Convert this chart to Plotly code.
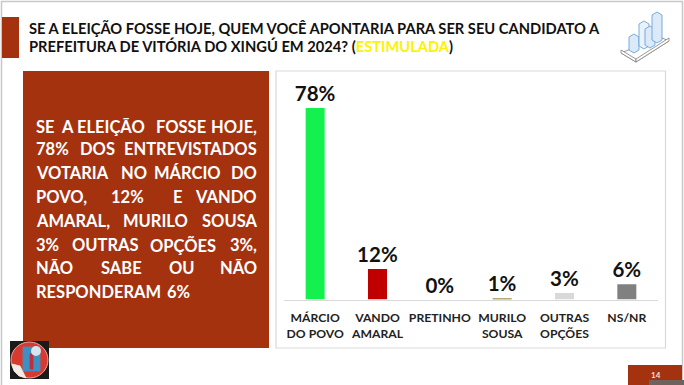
import plotly.graph_objects as go

categories = ["MÁRCIO<br>DO POVO", "VANDO<br>AMARAL", "PRETINHO", "MURILO<br>SOUSA", "OUTRAS<br>OPÇÕES", "NS/NR"]
values = [78, 12.4, 0, 0.6, 2.6, 6.2]
value_labels = ["78%", "12%", "0%", "1%", "3%", "6%"]
bar_colors = ["#14F04E", "#C00000", "#C00000", "#B5A878", "#D9D9D9", "#808080"]

title_line_1 = "SE A ELEIÇÃO FOSSE HOJE, QUEM VOCÊ APONTARIA PARA SER SEU CANDIDATO A"
title_line_2 = 'PREFEITURA DE VITÓRIA DO XINGÚ EM 2024? (<span style="color:#FFF200">ESTIMULADA</span>)'
page_number = "14"

# Justified side text: each line as (centre y, [(left x, word), ...]); the final word of a
# justified line is anchored on the right margin instead.
side_lines = [
    (127, [(35, "SE"), (60, "A"), (76, "ELEIÇÃO"), (155, "FOSSE")], "HOJE,"),
    (149, [(35, "78%"), (79, "DOS")], "ENTREVISTADOS"),
    (173, [(35, "VOTARIA"), (120, "NO"), (153, "MÁRCIO")], "DO"),
    (197, [(35, "POVO,"), (110, "12%"), (172, "E")], "VANDO"),
    (221, [(35, "AMARAL,"), (122, "MURILO")], "SOUSA"),
    (245, [(35, "3%"), (71, "OUTRAS"), (149, "OPÇÕES")], "3%,"),
    (268, [(35, "NÃO"), (100, "SABE"), (168, "OU")], "NÃO"),
    (292, [(35, "RESPONDERAM"), (166, "6%")], None),
]

W, H = 684, 385
BRICK = "#A5320F"
FONT = "Lato"
px = lambda x: x / W
py = lambda y: 1 - y / H


def rect(x0, y0, x1, y1, fill="rgba(0,0,0,0)", line=None, width=1):
    return dict(type="rect", xref="paper", yref="paper", x0=px(x0), x1=px(x1), y0=py(y0), y1=py(y1),
                fillcolor=fill, line=dict(color=line or "rgba(0,0,0,0)", width=width if line else 0), layer="below")


def poly(points, fill="rgba(0,0,0,0)", line="#5B9BD5", width=0.8, layer="above"):
    d = "M" + " L".join(f"{px(x):.5f},{py(y):.5f}" for x, y in points) + " Z"
    return dict(type="path", xref="paper", yref="paper", path=d, fillcolor=fill,
                line=dict(color=line, width=width), layer=layer)


def circle(x0, y0, x1, y1, fill, line=None, width=0):
    return dict(type="circle", xref="paper", yref="paper", x0=px(x0), x1=px(x1), y0=py(y0), y1=py(y1),
                fillcolor=fill, line=dict(color=line or "rgba(0,0,0,0)", width=width), layer="above")


shapes = [
    rect(1.5, 1.5, 682.5, 390, line="#C8C8C8", width=1.5),  # slide frame
    rect(2, 17, 19, 58, fill=BRICK),
    rect(23, 71, 269, 348, fill=BRICK),
    rect(276, 71, 665.5, 348, fill="white", line="#D9D9D9", width=1.2),
    rect(628, 365, 682, 385, fill=BRICK),
    rect(649, 380, 684, 385, fill="#6E625C"),
    # logo
    rect(10, 341, 49, 379, fill="#1A1A1A"),
    circle(11, 342, 48, 378, "#D93A30", "#E8A8A0", 1),
    poly([(23, 347), (40, 347), (40, 371), (23, 371)], fill="#3D8FC4", line="#3D8FC4"),
    poly([(30, 354), (33, 354), (33, 369), (30, 369)], fill="#C0303A", line="#C0303A"),
    circle(31, 346, 41, 356, "#D8E4EC"),
    poly([(12, 364), (20, 366), (26, 378), (19, 376), (14, 371)], fill="#F2EDE4", line="#F2EDE4"),
    # isometric bar icon
    poly([(621, 53), (660, 37), (669, 41), (636, 62)], fill="white", line="#7F7F7F"),
    poly([(621, 53), (636, 62), (636, 59), (621, 50)], fill="white", line="#7F7F7F"),
    poly([(636, 62), (669, 41), (669, 38), (636, 59)], fill="white", line="#7F7F7F"),
    poly([(629, 37), (634, 34), (639, 37), (639, 50), (634, 53), (629, 50)], fill="#DCE9F8"),
    poly([(639, 24), (644, 21), (649, 24), (649, 46), (644, 49), (639, 46)], fill="#EAF2FB"),
    poly([(645, 29), (650, 26), (655, 29), (655, 45), (650, 48), (645, 45)], fill="#DCE9F8"),
    poly([(652, 15), (657, 12), (662, 15), (662, 40), (657, 43), (652, 40)], fill="#DCE9F8"),
]

annotations = [
    dict(x=px(27.5), y=py(28), text=title_line_1, xanchor="left", yanchor="middle",
         font=dict(size=14.7, color="#111111", family=FONT, weight=700)),
    dict(x=px(27.5), y=py(46), text=title_line_2, xanchor="left", yanchor="middle",
         font=dict(size=14.7, color="#111111", family=FONT, weight=700)),
    dict(x=px(656), y=py(375), text=page_number, xanchor="center", yanchor="middle",
         font=dict(size=8, color="#F0E0D8", family=FONT, weight=700)),
]
side_font = dict(size=16.5, color="white", family=FONT, weight=700)
for y, words, last in side_lines:
    for x, word in words:
        annotations.append(dict(x=px(x), y=py(y), text=word, xanchor="left", yanchor="middle", font=side_font))
    if last:
        annotations.append(dict(x=px(258), y=py(y), text=last, xanchor="right", yanchor="middle", font=side_font))
for a in annotations:
    a.update(xref="paper", yref="paper", showarrow=False, borderpad=0, xshift=0)

fig = go.Figure(go.Bar(
    x=categories, y=values, marker=dict(color=bar_colors, line=dict(width=0)),
    text=value_labels, textposition="outside", cliponaxis=False, constraintext="none",
    textfont=dict(size=20.5, color="#111111", family=FONT, weight=700),
))
fig.update_layout(
    width=W, height=H, margin=dict(l=0, r=0, t=0, b=0, autoexpand=False),
    paper_bgcolor="white", plot_bgcolor="rgba(0,0,0,0)", showlegend=False, bargap=0.695,
    shapes=shapes, annotations=annotations,
    xaxis=dict(domain=[px(284), px(658)], range=[-0.5, 5.5], type="category", showgrid=False, zeroline=False,
               showline=True, linecolor="#D9D9D9", linewidth=1.2, ticks="", tickangle=0, ticklabelstandoff=7,
               tickfont=dict(size=12.2, color="#222222", family=FONT, weight=700)),
    yaxis=dict(domain=[py(299.5), py(80)], range=[0, 89.4], visible=False),
)
fig.write_html("out.html", config=dict(displayModeBar=False),
               post_script="document.body.style.margin='0';document.documentElement.style.overflow='hidden';")
